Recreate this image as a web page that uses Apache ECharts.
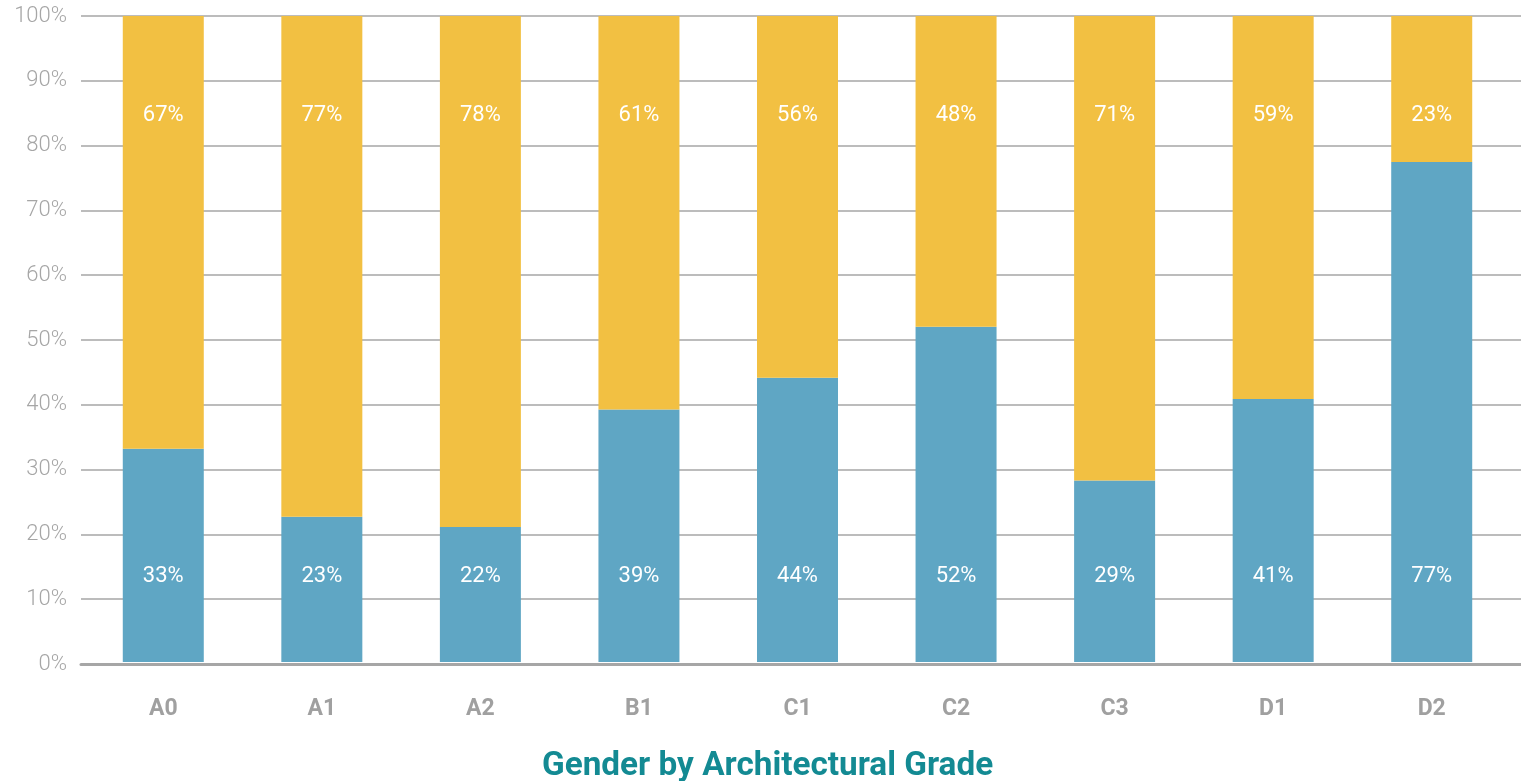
<!DOCTYPE html>
<html>
<head>
<meta charset="utf-8">
<title>Gender by Architectural Grade</title>
<script src="https://cdn.jsdelivr.net/npm/echarts@6/dist/echarts.min.js"></script>
<style>
  html, body { margin: 0; padding: 0; background: #fff; }
  #chart { width: 1521px; height: 781px; }
</style>
</head>
<body>
<div id="chart"></div>
<script>
// grades along the x axis
var grades = ['A0', 'A1', 'A2', 'B1', 'C1', 'C2', 'C3', 'D1', 'D2']
// bar heights (blue share, %)
var blueShare = [33.0, 22.5, 20.9, 39.1, 44.0, 51.9, 28.1, 40.7, 77.4]
// yellow share fills each bar up to 100%
var yellowShare = [67.0, 77.5, 79.1, 60.9, 56.0, 48.1, 71.9, 59.3, 22.6]
// printed labels inside the bars
var blueLabels = ['33%', '23%', '22%', '39%', '44%', '52%', '29%', '41%', '77%']
var yellowLabels = ['67%', '77%', '78%', '61%', '56%', '48%', '71%', '59%', '23%']

var chart = echarts.init(document.getElementById('chart'), null, { renderer: 'canvas' })

var option = {
  animation: false,
  textStyle: { fontFamily: 'Roboto' },
  title: {
    text: 'Gender by Architectural Grade',
    left: 537,
    top: 745,
    textStyle: { fontFamily: 'Roboto', fontSize: 33.3, fontWeight: 'bold', color: '#138a93' }
  },
  grid: [
    // bars
    { left: 84, right: 10, top: 16, bottom: 119 },
    // full width grid lines and y labels
    { left: 81, right: 0, top: 16, bottom: 117 }
  ],
  xAxis: [{
    type: 'category',
    gridIndex: 0,
    data: grades,
    axisLine: { show: false },
    axisTick: { show: false },
    axisLabel: { margin: 36, fontSize: 23, fontWeight: 'bold', color: '#a0a0a0' }
  }, {
    type: 'category',
    gridIndex: 1,
    data: grades,
    axisLine: { onZero: false, lineStyle: { color: '#a6a6a6', width: 3 } },
    axisTick: { show: false },
    axisLabel: { show: false }
  }],
  yAxis: [{
    type: 'value',
    gridIndex: 0,
    min: 0,
    max: 100,
    show: false
  }, {
    type: 'value',
    gridIndex: 1,
    min: 0,
    max: 100,
    interval: 10,
    axisLine: { show: false },
    axisTick: { show: false },
    splitLine: { lineStyle: { color: '#a6a6a6', width: 1.5 } },
    axisLabel: {
      formatter: '{value}%',
      margin: 14,
      fontSize: 22,
      fontWeight: 300,
      color: '#a6a6a6'
    }
  }],
  series: [{
    type: 'bar',
    name: 'blue',
    stack: 'share',
    xAxisIndex: 0,
    yAxisIndex: 0,
    barWidth: 81,
    data: blueShare,
    itemStyle: { color: '#5fa6c4' },
    label: {
      show: true,
      position: 'insideBottom',
      distance: 75,
      fontSize: 22,
      color: '#fff',
      formatter: function (p) { return blueLabels[p.dataIndex] }
    }
  }, {
    type: 'bar',
    name: 'yellow',
    stack: 'share',
    xAxisIndex: 0,
    yAxisIndex: 0,
    barWidth: 81,
    data: yellowShare,
    itemStyle: { color: '#f2c042' },
    label: {
      show: true,
      position: 'insideTop',
      distance: 88,
      fontSize: 22,
      color: '#fff',
      formatter: function (p) { return yellowLabels[p.dataIndex] }
    }
  }]
}

chart.setOption(option)
</script>
</body>
</html>
